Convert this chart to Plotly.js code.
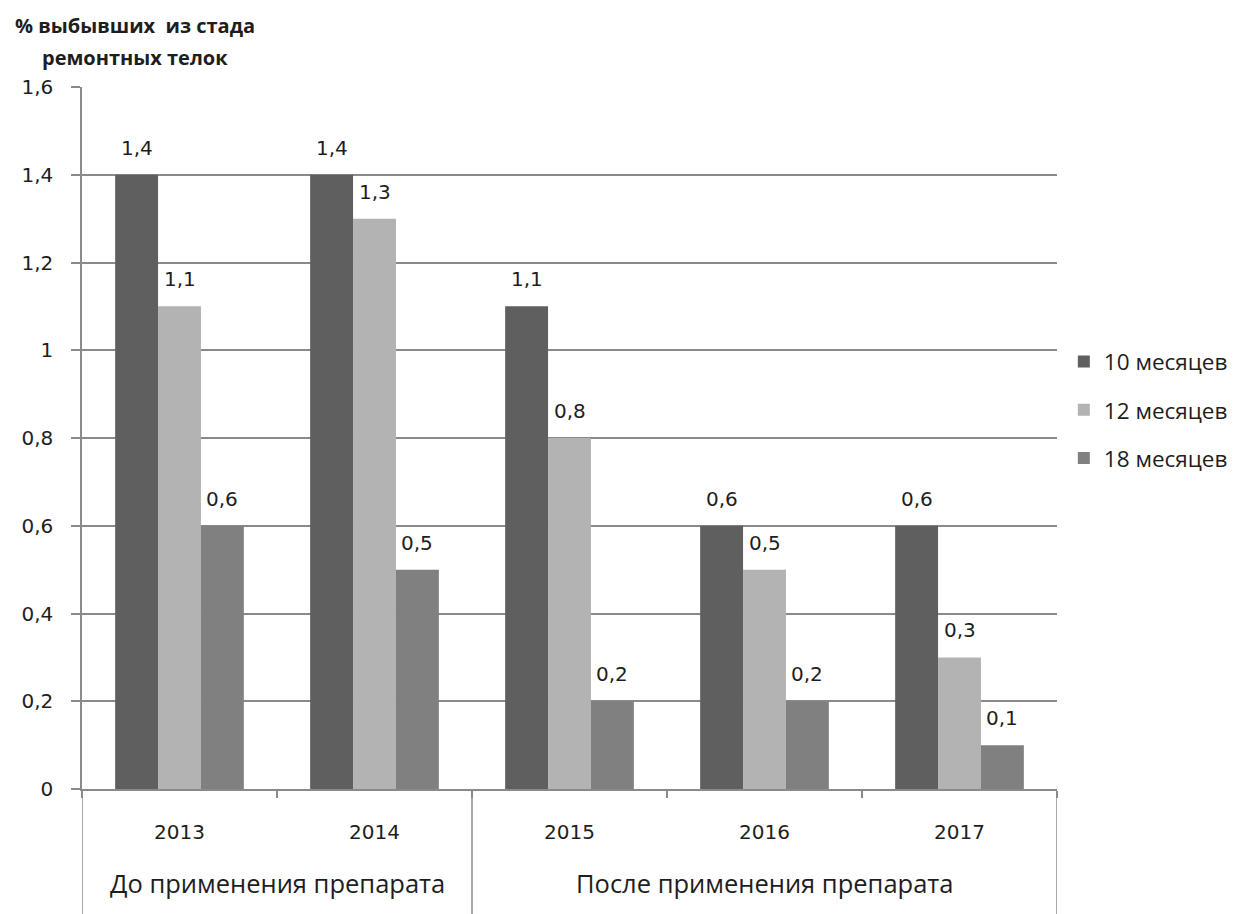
<!DOCTYPE html>
<html><head><meta charset="utf-8">
<script src="https://cdn.plot.ly/plotly-3.0.1.min.js"></script>
<style>html,body{margin:0;padding:0;background:#fff}#chart{width:1235px;height:914px}</style>
</head><body><div id="chart"></div>
<script>
const years = ['2013', '2014', '2015', '2016', '2017'];
const seriesNames = ['10 месяцев', '12 месяцев', '18 месяцев'];
const m10 = [1.4, 1.4, 1.1, 0.6, 0.6];
const m12 = [1.1, 1.3, 0.8, 0.5, 0.3];
const m18 = [0.6, 0.5, 0.2, 0.2, 0.1];
const periodLabels = ['До применения препарата', 'После применения препарата'];
const periodYears = [['2013', '2014'], ['2015', '2016', '2017']];
const yTicks = [0, 0.2, 0.4, 0.6, 0.8, 1, 1.2, 1.4, 1.6];
const yTitle = ['% выбывших  из стада', 'ремонтных телок'];

const colors = ['#5f5f5f', '#b3b3b3', '#808080'];
const txtCol = '#1e1e1e';
const fmt = v => String(v).replace('.', ',');
const allSeries = [m10, m12, m18];
const traces = allSeries.map((vals, i) => ({
  type: 'bar', x: years, y: vals, name: seriesNames[i],
  marker: {color: colors[i], line: {width: 0}},
  legendgroup: 'g' + i, hoverinfo: 'none'
}));

const shapes = [];
const annotations = [];
const lineCol = '#8a8a8a';
const plotW = 975, nCat = years.length, bargap = 0.34;
const barPx = plotW / nCat * (1 - bargap) / allSeries.length;
// data labels above bars
allSeries.forEach((vals, i) => {
  vals.forEach((v, j) => {
    annotations.push({xref: 'x', yref: 'y', x: j, y: v, text: fmt(v), showarrow: false,
      xanchor: 'center', yanchor: 'bottom', xshift: (i - 1) * barPx, yshift: 13,
      font: {family: 'DejaVu Sans', size: 20, color: txtCol}});
  });
});
// bottom borders: left edge, group divider(s), right edge
const idx = y => years.indexOf(y);
let boundaries = [-0.5];
periodYears.forEach(g => boundaries.push(idx(g[g.length - 1]) + 0.5));
boundaries.forEach(b => shapes.push({type: 'line', xref: 'x', yref: 'paper', x0: b, x1: b, y0: 0, y1: -0.18, line: {color: lineCol, width: 1.5}}));
periodYears.forEach((g, k) => {
  const c = (idx(g[0]) + idx(g[g.length - 1])) / 2;
  annotations.push({xref: 'x', yref: 'paper', x: c, y: -0.134, text: periodLabels[k], showarrow: false,
    font: {family: 'Open Sans', size: 25.5, color: txtCol}, xanchor: 'center', yanchor: 'middle'});
});
annotations.push({xref: 'paper', yref: 'paper', x: -0.0708, y: 1.0869, text: '<b>' + yTitle[0] + '</b>', showarrow: false, xanchor: 'left', yanchor: 'middle', font: {family: 'Open Sans', size: 20, color: txtCol}});
annotations.push({xref: 'paper', yref: 'paper', x: -0.0431, y: 1.0427, text: '<b>' + yTitle[1] + '</b>', showarrow: false, xanchor: 'left', yanchor: 'middle', font: {family: 'Open Sans', size: 20, color: txtCol}});

const layout = {
  width: 1235, height: 914,
  margin: {l: 82, r: 178, t: 87, b: 125, autoexpand: false},
  paper_bgcolor: '#fff', plot_bgcolor: '#fff',
  separators: ', ',
  barmode: 'group', bargap: bargap, bargroupgap: 0,
  xaxis: {type: 'category', range: [-0.5, nCat - 0.5], autorange: false, showgrid: false, showline: true, linecolor: lineCol, linewidth: 1.5,
    ticks: 'outside', tickson: 'boundaries', ticklen: 7, tickcolor: lineCol, tickwidth: 1.5,
    ticklabelstandoff: 24, tickfont: {family: 'DejaVu Sans', size: 20, color: txtCol}},
  yaxis: {range: [0, 1.6], autorange: false, tickvals: yTicks, ticktext: yTicks.map(fmt), showgrid: true, gridcolor: lineCol, gridwidth: 1.5,
    showline: true, linecolor: lineCol, linewidth: 1.5, ticks: 'outside', ticklen: 9, tickcolor: lineCol, tickwidth: 1.5,
    zeroline: false, tickfont: {family: 'DejaVu Sans', size: 20, color: txtCol}, ticklabelstandoff: 14},
  legend: {x: 1.007, y: 0.639, xanchor: 'left', yanchor: 'top', traceorder: 'grouped', tracegroupgap: 16,
    font: {family: 'Open Sans', size: 22.5, color: txtCol}, itemwidth: 30},
  shapes: shapes, annotations: annotations
};
Plotly.newPlot('chart', traces, layout, {displayModeBar: false});
</script></body></html>
